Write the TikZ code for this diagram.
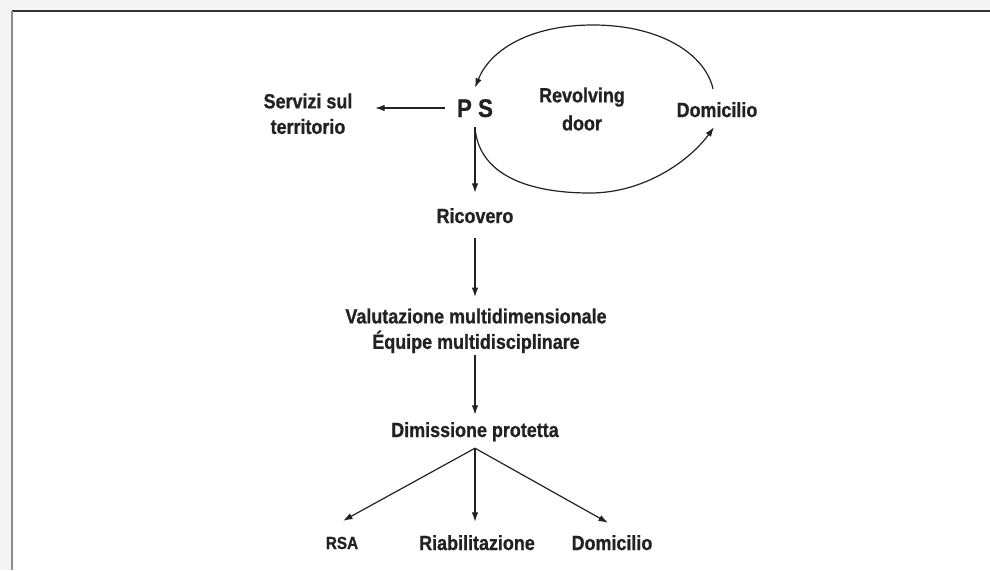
\documentclass[tikz,border=0pt]{standalone}
\usepackage{fontspec}
\setmainfont{Liberation Sans}[FakeStretch=0.875, BoldFeatures={FakeBold=0.8}]
\usetikzlibrary{arrows.meta}
\definecolor{ink}{HTML}{222222}
\begin{document}
\begin{tikzpicture}[x=1pt,y=-1pt,
  lbl/.style={font=\bfseries\fontsize{20.5}{25.5}\selectfont, text=ink, inner sep=0pt, text height=14.5pt, text depth=4pt, anchor=base},
  lbl2/.style={font=\bfseries\fontsize{20.5}{25.5}\selectfont, text=ink, inner sep=0pt, align=center, anchor=north},
  arr/.style={draw=ink, line width=1.2pt, -{Latex[length=9.5pt,width=6.5pt]}},
]
\useasboundingbox (0,0) rectangle (990,570);
\fill[black!4] (0,0) rectangle (990,570);
\fill[white] (12,11) rectangle (990,570);
\draw[line width=1.2pt, color=black!80] (12,11) -- (990,11);
\draw[line width=2pt, color=black!45] (12,11) -- (12,570);

\node[lbl, font=\bfseries\fontsize{25.5}{30}\selectfont, text height=18pt, text depth=0pt] (ps) at (475,117) {P S};
\node[lbl2] (serv) at (308,93.3) {Servizi sul\\territorio};
\node[lbl2] (rev) at (582,87.3) {Revolving\\[2.5pt]door};
\node[lbl] (dom1) at (717,117) {Domicilio};
\node[lbl] (ric) at (475,223) {Ricovero};
\node[lbl2] (val) at (476,308.3) {Valutazione multidimensionale\\Équipe multidisciplinare};
\node[lbl] (dim) at (475,437) {Dimissione protetta};
\node[lbl, font=\bfseries\fontsize{17.5}{20}\selectfont] (rsa) at (342,549) {RSA};
\node[lbl] (ria) at (477,550) {Riabilitazione};
\node[lbl] (dom2) at (612,550) {Domicilio};

\coordinate (looptop) at (593,25);
\coordinate (loopbot) at (590,193);

\draw[arr, shorten <=11.5pt, shorten >=22.6pt] (ps.west) -- (ps.west -| serv.east);
\draw[arr, shorten <=10pt, shorten >=15.5pt] (ps.south) -- (ps.south |- ric.north);
\draw[arr, shorten <=11pt, shorten >=11.2pt] (ric.south) -- (ric.south |- val.north);
\draw[arr, shorten <=2pt, shorten >=7.5pt] (dim.north |- val.south) -- (dim.north);
\draw[arr] ([yshift=-7pt]dim.south) -- ([shift={(1pt,13.5pt)}]rsa.north);
\draw[arr] ([yshift=-7pt]dim.south) -- ([yshift=13.5pt]dim.south |- ria.north);
\draw[arr] ([yshift=-7pt]dim.south) -- ([shift={(-4pt,12.5pt)}]dom2.north);

\draw[arr] ([shift={(-4pt,13.5pt)}]dom1.north) .. controls +(-8,-35) and +(67,0) .. (looptop)
  .. controls +(-63,0) and +(15,-38) .. ([yshift=11pt]ps.north);
\draw[arr] ([yshift=-10pt]ps.south) .. controls +(3,43) and +(-70,0) .. (loopbot)
  .. controls +(55,0) and +(-24,33) .. ([shift={(-3pt,-6pt)}]dom1.south);
\end{tikzpicture}
\end{document}
